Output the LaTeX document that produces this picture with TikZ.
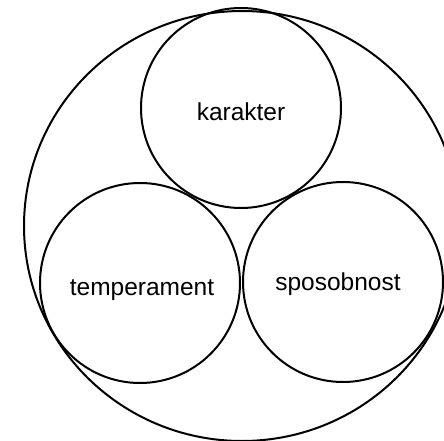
\documentclass[tikz,border=0pt]{standalone}
\usepackage{fontspec}
\setmainfont{Liberation Sans}
\begin{document}
\begin{tikzpicture}[x=1pt,y=-1pt,
  ring/.style={circle,draw,line width=2pt,minimum size=200pt,inner sep=0pt},
  label/.style={anchor=base,inner sep=0pt,font=\fontsize{24.5}{28}\selectfont}]
  \useasboundingbox (0,0) rectangle (444,441);
  % outer boundary
  \draw[line width=2pt] (242,226) ellipse [x radius=218, y radius=215];
  % the three inner circles
  \node[ring] (kar) at (241,108) {};
  \node[ring] (tem) at (140,283) {};
  \node[ring] (spo) at (343,282) {};
  % labels
  \node[label] (karl) at (241,121) {karakter};
  \node[label] (teml) at (142,295) {temperament};
  \node[label] (spol) at (338,290) {sposobnost};
\end{tikzpicture}
\end{document}
